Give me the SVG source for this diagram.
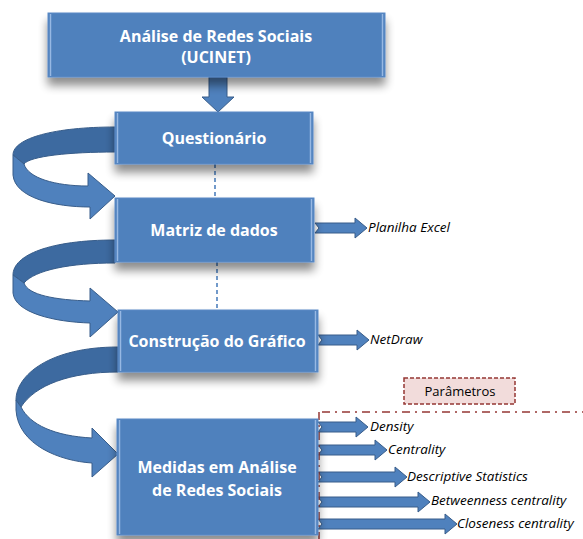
<svg xmlns="http://www.w3.org/2000/svg" width="583" height="539" viewBox="0 0 583 539">
<style>
.box{fill:#4f81bd;stroke:#5a8ac6;stroke-width:1}
.bev{stroke:#a3c2ea;stroke-width:1.5;fill:none;opacity:0.85}
.t{font-family:"Open Sans","DejaVu Sans",sans-serif;font-weight:bold;font-size:16px;fill:#ffffff;text-anchor:middle}
.lbl{font-family:"Open Sans","DejaVu Sans",sans-serif;font-style:italic;font-size:13.5px;fill:#000000}
.arr{fill:#4f81bd;stroke:#385d8a;stroke-width:1}
.back{fill:#3d6aa0;stroke:#385d8a;stroke-width:1}
.front{fill:#4f81bd;stroke:#385d8a;stroke-width:1}
.dash{stroke:#4f81bd;stroke-width:1.6;stroke-dasharray:4 3;fill:none}
.red{stroke:#953735;stroke-width:1.5;fill:none;stroke-dasharray:8 5 2 5}
</style>
<defs>
<filter id="sh" x="-20%" y="-30%" width="140%" height="180%">
<feGaussianBlur in="SourceAlpha" stdDeviation="5"/>
<feOffset dx="0" dy="8" result="b"/>
<feComponentTransfer><feFuncA type="linear" slope="0.45"/></feComponentTransfer>
<feMerge><feMergeNode/><feMergeNode in="SourceGraphic"/></feMerge>
</filter>
</defs>
<rect width="583" height="539" fill="#ffffff"/>

<g id="connectors">
<path class="arr" d="M209,77 L227,77 L227,97 L234,97 L218,112 L202,97 L209,97 Z"/>
<line class="dash" x1="215" y1="164" x2="215" y2="198"/>
<line class="dash" x1="217" y1="262" x2="217" y2="310"/>
<path class="back" d="M115,127 C55,127 13,138 13,155 L24,164 C30,156 70,152 115,152 Z"/>
<path class="front" d="M13,155 L13,175 C15,198 55,207 90,207 L90,219 L115,196 L88,173 L88,186 C55,186 28,178 24,164 Z"/>
<path class="back" d="M115,240 C50,240 13,255 13,275 L24,283 C35,270 70,263 115,263 Z"/>
<path class="front" d="M13,275 L13,293 C15,313 55,322 90,323 L90,337 L118,312 L90,288 L90,301 C55,300 28,295 24,283 Z"/>
<path class="back" d="M118,347 C50,347 16,375 16,400 L21,407 C35,385 70,372 118,372 Z"/>
<path class="front" d="M16,400 L16,410 C18,445 60,461 92,463 L92,477 L118,454 L92,428 L92,438 C55,436 30,425 21,407 Z"/>
<path class="arr" d="M315,223 L355,223 L355,218 L367,228 L355,238 L355,233 L315,233 L319,228 Z"/>
<path class="arr" d="M318,335 L357,335 L357,330 L369,340 L357,350 L357,345 L318,345 L322,340 Z"/>
<path class="arr" d="M318,422 L356,422 L356,417 L368,427 L356,437 L356,432 L318,432 L322,427 Z"/>
<path class="arr" d="M318,445 L375,445 L375,440 L387,450 L375,460 L375,455 L318,455 L322,450 Z"/>
<path class="arr" d="M318,472 L395,472 L395,467 L407,477 L395,487 L395,482 L318,482 L322,477 Z"/>
<path class="arr" d="M318,497 L418,497 L418,492 L430,502 L418,512 L418,507 L318,507 L322,502 Z"/>
<path class="arr" d="M318,519 L445,519 L445,514 L457,524 L445,534 L445,529 L318,529 L322,524 Z"/>
<line class="red" x1="322" y1="412" x2="583" y2="412"/>
<line class="red" x1="319" y1="412" x2="319" y2="539"/>
</g>

<g id="n-ucinet">
<rect class="box" x="48" y="13" width="337" height="64" filter="url(#sh)"/>
<line class="bev" x1="50.5" y1="14" x2="50.5" y2="76"/><line class="bev" x1="382.5" y1="14" x2="382.5" y2="76"/>
<text class="t" x="216" y="42">Análise de Redes Sociais</text>
<text class="t" x="216" y="63">(UCINET)</text>
</g>
<g id="n-questionario">
<rect class="box" x="115" y="112" width="198" height="52" filter="url(#sh)"/>
<line class="bev" x1="117.5" y1="113" x2="117.5" y2="163"/><line class="bev" x1="310.5" y1="113" x2="310.5" y2="163"/>
<text class="t" x="214" y="144">Questionário</text>
</g>
<g id="n-matriz">
<rect class="box" x="115" y="198" width="199" height="64" filter="url(#sh)"/>
<line class="bev" x1="117.5" y1="199" x2="117.5" y2="261"/><line class="bev" x1="311.5" y1="199" x2="311.5" y2="261"/>
<text class="t" x="214" y="236">Matriz de dados</text>
</g>
<g id="n-construcao">
<rect class="box" x="118" y="310" width="200" height="62" filter="url(#sh)"/>
<line class="bev" x1="120.5" y1="311" x2="120.5" y2="371"/><line class="bev" x1="315.5" y1="311" x2="315.5" y2="371"/>
<text class="t" x="217" y="347">Construção do Gráfico</text>
</g>
<g id="n-medidas">
<rect class="box" x="117" y="419" width="201" height="116" filter="url(#sh)"/>
<line class="bev" x1="119.5" y1="420" x2="119.5" y2="534"/><line class="bev" x1="315.5" y1="420" x2="315.5" y2="534"/>
<text class="t" x="217" y="473">Medidas em Análise</text>
<text class="t" x="217" y="496">de Redes Sociais</text>
</g>
<g id="n-parametros">
<rect x="404" y="378" width="111" height="26" fill="#f2dcdb" stroke="#953735" stroke-width="1.5" stroke-dasharray="4 2"/>
<text x="460" y="396" font-family="'Open Sans','DejaVu Sans',sans-serif" font-size="13" fill="#000" text-anchor="middle">Parâmetros</text>
</g>
<g id="n-labels">
<text class="lbl" x="368" y="232">Planilha Excel</text>
<text class="lbl" x="370" y="344">NetDraw</text>
<text class="lbl" x="370" y="431">Density</text>
<text class="lbl" x="388" y="454">Centrality</text>
<text class="lbl" x="407" y="481">Descriptive Statistics</text>
<text class="lbl" x="431" y="505">Betweenness centrality</text>
<text class="lbl" x="457" y="528">Closeness centrality</text>
</g>
</svg>
